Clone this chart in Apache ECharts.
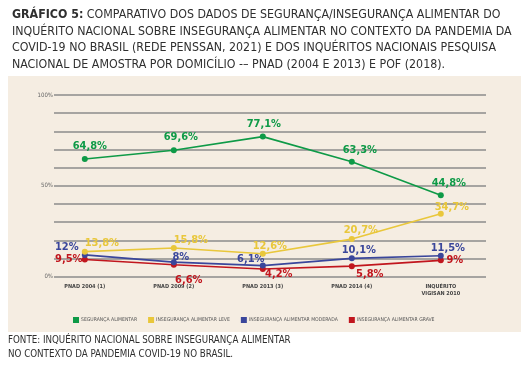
<!DOCTYPE html>
<html><head><meta charset="utf-8">
<script src="https://cdn.jsdelivr.net/npm/echarts@6/dist/echarts.min.js"></script>
<style>html,body{margin:0;padding:0;background:#fff;}#c{width:530px;height:368px;}</style>
</head><body><div id="c"></div>
<script>
const categories = ['PNAD 2004 (1)', 'PNAD 2009 (2)', 'PNAD 2013 (3)', 'PNAD 2014 (4)', 'INQUÉRITO\nVIGISAN 2010'];
const seriesNames = ['SEGURANÇA ALIMENTAR', 'INSEGURANÇA ALIMENTAR LEVE', 'INSEGURANÇA ALIMENTAR MODERADA', 'INSEGURANÇA ALIMENTAR GRAVE'];
const seguranca = [64.8, 69.6, 77.1, 63.3, 44.8];
const leve = [13.8, 15.8, 12.6, 20.7, 34.7];
const moderada = [12, 8, 6.1, 10.1, 11.5];
const grave = [9.5, 6.6, 4.2, 5.8, 9];
const yTickLabels = {0: '0%', 50: '50%', 100: '100%'};

const colors = ['#0e9a47', '#e9c73b', '#3a469b', '#c1161e'];
const F = "'Liberation Sans Narrow', 'DejaVu Sans Condensed', 'Roboto', sans-serif";

// label offsets from each point (style only)
const labelOffsets = [
  [[5,-13],[7,-13.5],[1,-12],[8,-12],[8,-12.5]],
  [[17,-8],[17,-8],[7,-7.5],[9,-9],[11,-7]],
  [[-18,-8],[7,-5],[-12,-6.5],[7,-8.3],[7,-7.7]],
  [[-16,0],[15,15],[16,5],[18,8],[14,0]]
];
const fmt = v => String(v).replace('.', ',') + '%';

function mk(idx, arr) {
  return {
    name: seriesNames[idx], type: 'line', xAxisIndex: 1, yAxisIndex: 1,
    data: arr.map((v, i) => ({
      value: v,
      label: {position: 'inside', offset: labelOffsets[idx][i]}
    })),
    symbol: 'circle', symbolSize: 6,
    lineStyle: {color: colors[idx], width: 1.6},
    itemStyle: {color: colors[idx]},
    label: {show: true, formatter: p => fmt(p.value), color: colors[idx],
      fontFamily: F, fontWeight: 'bold', fontSize: 11},
    z: 10 - idx
  };
}

const chart = echarts.init(document.getElementById('c'), null, {renderer: 'canvas'});
chart.setOption({
  animation: false,
  backgroundColor: '#ffffff',
  graphic: [
    {type: 'rect', shape: {x: 8, y: 76, width: 513, height: 256}, style: {fill: '#f5ede2'}, z: -10},
    {type: 'text', left: 8, top: 334, style: {
      text: 'FONTE: INQUÉRITO NACIONAL SOBRE INSEGURANÇA ALIMENTAR\nNO CONTEXTO DA PANDEMIA COVID-19 NO BRASIL.',
      font: "9.7px " + F, fill: '#2f2f2f', lineHeight: 13.7}}
  ],
  title: {
    left: 12, top: 7, padding: 0,
    text: '{b|GRÁFICO 5:} COMPARATIVO DOS DADOS DE SEGURANÇA/INSEGURANÇA ALIMENTAR DO\nINQUÉRITO NACIONAL SOBRE INSEGURANÇA ALIMENTAR NO CONTEXTO DA PANDEMIA DA\nCOVID-19 NO BRASIL (REDE PENSSAN, 2021) E DOS INQUÉRITOS NACIONAIS PESQUISA\nNACIONAL DE AMOSTRA POR DOMICÍLIO -– PNAD (2004 E 2013) E POF (2018).',
    textStyle: {fontFamily: F, fontSize: 12.3, fontWeight: 'normal', color: '#2f2f2f', lineHeight: 16.5,
      rich: {b: {fontFamily: F, fontSize: 12.3, fontWeight: 'bold', color: '#2f2f2f', lineHeight: 16.5}}}
  },
  legend: {
    top: 312, left: 68,
    itemWidth: 6, itemHeight: 6, itemGap: 11, icon: 'rect',
    textStyle: {fontFamily: F, fontSize: 5.1, color: '#555', padding: [0, 0, 0, -3]},
    data: seriesNames
  },
  grid: [
    {left: 54, right: 44, top: 95, bottom: 91.3},
    {left: 40.3, right: 44.7, top: 95, bottom: 91.3}
  ],
  xAxis: [
    {type: 'category', gridIndex: 0, data: categories, show: false},
    {type: 'category', gridIndex: 1, data: categories, boundaryGap: true,
      axisLine: {show: false}, axisTick: {show: false},
      axisLabel: {fontFamily: F, fontSize: 5.5, fontWeight: 'bold', color: '#444', margin: 6, lineHeight: 7, interval: 0}}
  ],
  yAxis: [
    {type: 'value', gridIndex: 0, min: 0, max: 100, interval: 10,
      axisLine: {show: false}, axisTick: {show: false},
      axisLabel: {formatter: v => yTickLabels[v] || '', fontFamily: F, fontSize: 6, color: '#666', margin: 1},
      splitLine: {lineStyle: {color: '#8b8b8b', width: 1.5}}},
    {type: 'value', gridIndex: 1, min: 0, max: 100, interval: 10, show: false, splitLine: {show: false}}
  ],
  series: [mk(0, seguranca), mk(1, leve), mk(2, moderada), mk(3, grave)]
});
</script></body></html>
